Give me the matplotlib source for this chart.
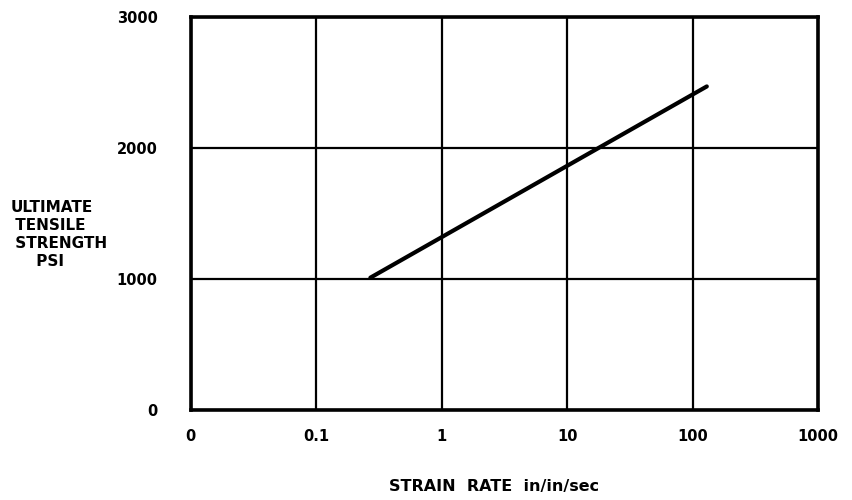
import matplotlib
matplotlib.use("Agg")
import matplotlib.pyplot as plt

# data
strain_rate = [0.27, 130]          # in/in/sec
tensile_strength = [1010, 2470]    # psi

x_ticks = [0.01, 0.1, 1, 10, 100, 1000]
x_tick_labels = ["0", "0.1", "1", "10", "100", "1000"]
y_ticks = [0, 1000, 2000, 3000]
y_tick_labels = ["0", "1000", "2000", "3000"]

fig = plt.figure(figsize=(8.52, 5.0), dpi=100)
ax = fig.add_axes([0.224, 0.18, 0.736, 0.786])

ax.set_xscale("log")
ax.set_xlim(0.01, 1000)
ax.set_ylim(0, 3000)

ax.plot(strain_rate, tensile_strength, color="black", lw=3.0, solid_capstyle="round")

ax.set_xticks(x_ticks)
ax.set_xticklabels(x_tick_labels)
ax.set_yticks(y_ticks)
ax.set_yticklabels(y_tick_labels)
ax.minorticks_off()
ax.tick_params(length=0, labelsize=10.5)
ax.tick_params(axis="x", pad=14)
ax.tick_params(axis="y", pad=24)
for lab in ax.get_xticklabels() + ax.get_yticklabels():
    lab.set_fontweight("bold")

ax.grid(True, color="black", lw=1.6)
for s in ax.spines.values():
    s.set_linewidth(2.6)
    s.set_color("black")

fig.text(0.012, 0.53, "ULTIMATE\n TENSILE\n STRENGTH\n     PSI", ha="left", va="center",
         fontsize=11, fontweight="bold", linespacing=1.25)
fig.text(0.58, 0.028, "STRAIN  RATE  in/in/sec", ha="center", va="center",
         fontsize=11.5, fontweight="bold")

fig.savefig("out.png", dpi=100)
